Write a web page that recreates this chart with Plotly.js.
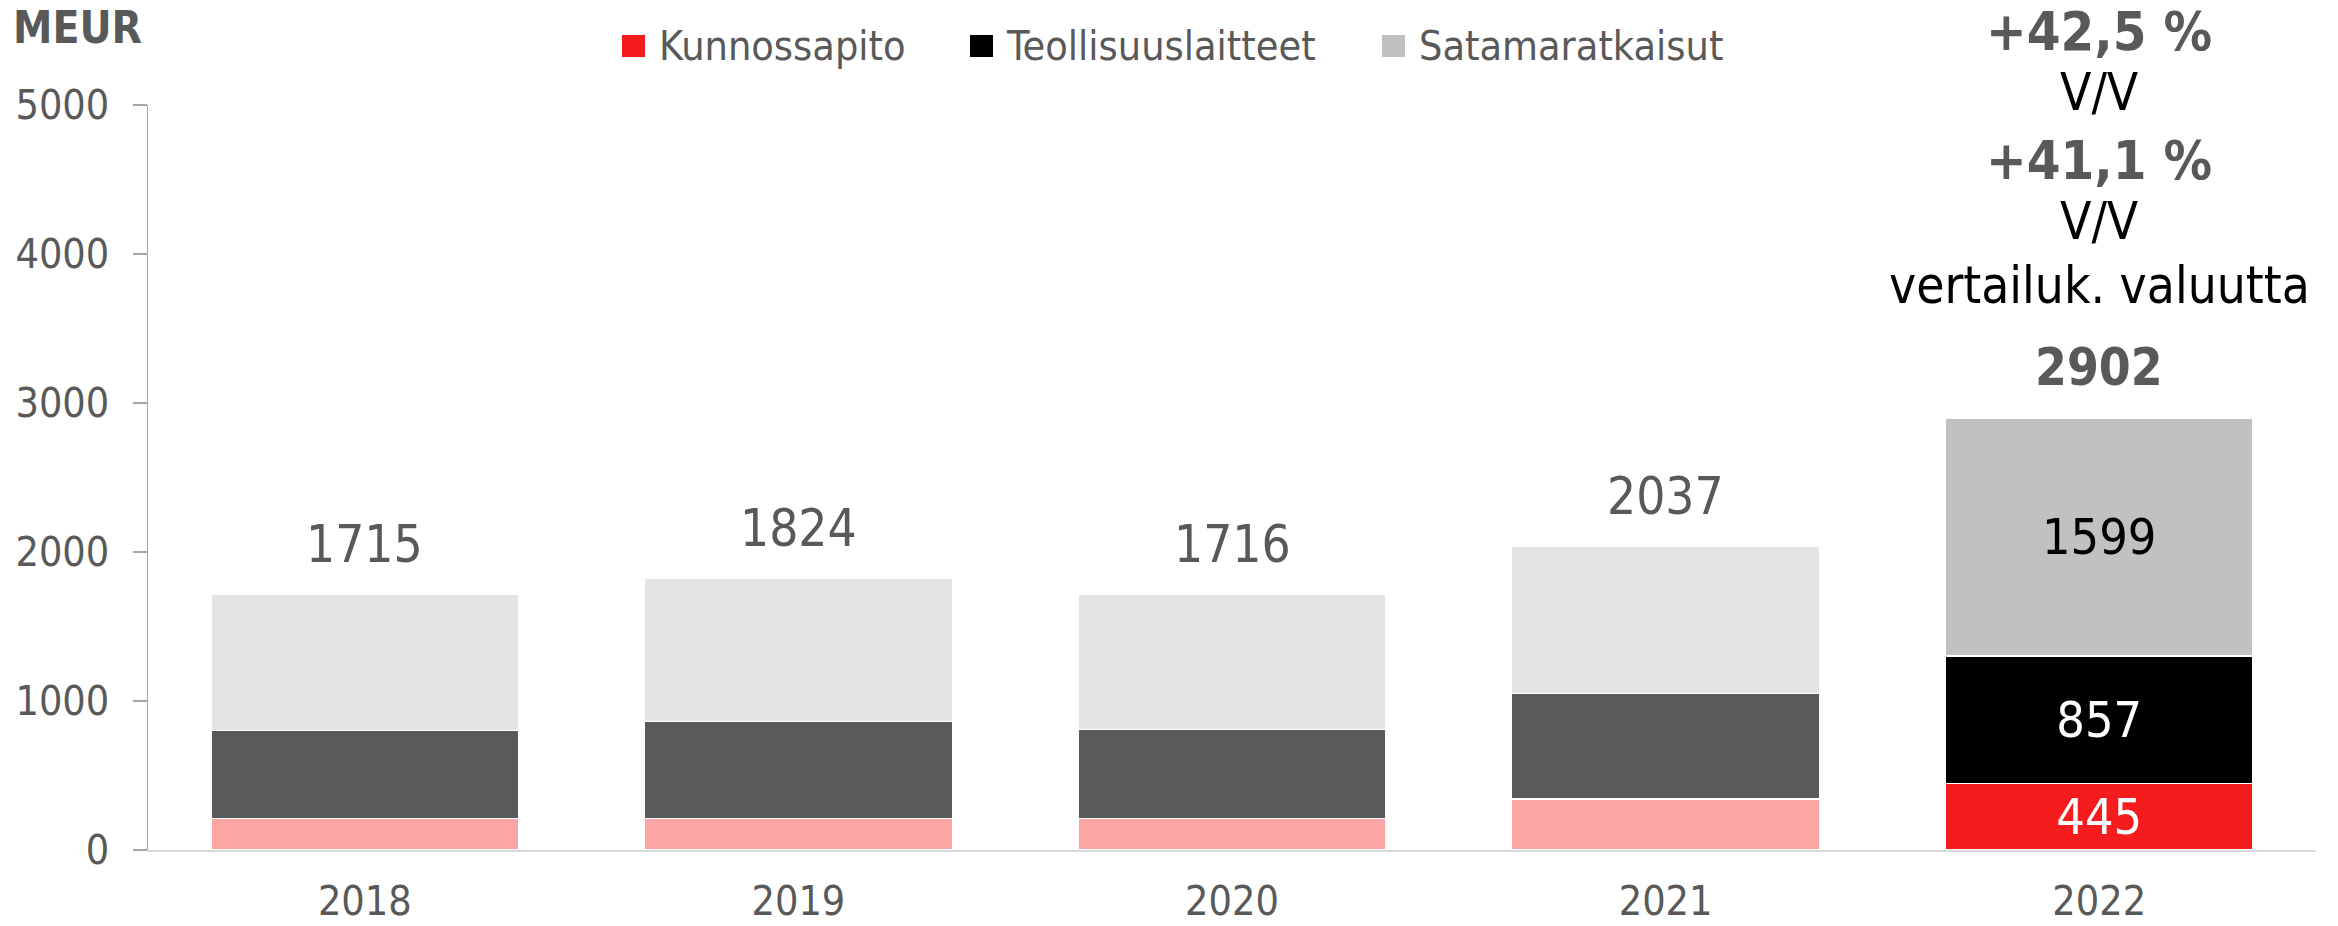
<!DOCTYPE html>
<html><head><meta charset="utf-8">
<script src="https://cdn.plot.ly/plotly-3.0.1.min.js"></script>
<style>html,body{margin:0;padding:0;background:#fff}</style>
</head><body>
<div id="chart" style="width:2338px;height:926px"></div>
<script>
// ---- data ----
const years = ['2018', '2019', '2020', '2021', '2022'];
const kunnossapito = [213, 210, 210, 342, 445];
const teollisuuslaitteet = [590, 651, 600, 710, 857];
const satamaratkaisut = [912, 963, 906, 985, 1599];
const totals = [1715, 1824, 1716, 2037, 2902];
const seriesNames = ['Kunnossapito', 'Teollisuuslaitteet', 'Satamaratkaisut'];
const growthLines = ['+42,5 %', 'V/V', '+41,1 %', 'V/V', 'vertailuk. valuutta'];
const growthBold = [true, false, true, false, false];
const unitLabel = 'MEUR';

// ---- styles ----
const FONT = '"DejaVu Sans Condensed", "DejaVu Sans", sans-serif';
const GRAY = '#595959';
const W = 2338, H = 926;
const ML = 148, MR = 22, MT = 105, MB = 76;
const PW = W - ML - MR, PH = H - MT - MB;
const px2x = p => (p - ML) / PW;
const py2y = p => (H - MB - p) / PH;

const fadedColors = ['#FBA5A5', '#5A5A5A', '#E3E4E3'];
const mainColors = ['#F41C1C', '#000000', '#C1C1C1'];
const legendColors = ['#F41C1C', '#000000', '#C0C0C0'];
const insideTextColors = ['#FFFFFF', '#FFFFFF', '#000000'];
const lastIdx = years.length - 1;

const seriesValues = [kunnossapito, teollisuuslaitteet, satamaratkaisut];
const traces = seriesValues.map((vals, s) => ({
  type: 'bar',
  name: seriesNames[s],
  x: years,
  y: vals,
  marker: {
    color: years.map((_, i) => i === lastIdx ? mainColors[s] : fadedColors[s]),
    line: {color: '#FFFFFF', width: 1.5}
  },
  text: vals.map((v, i) => i === lastIdx ? String(v) : ''),
  textposition: 'inside',
  insidetextanchor: 'middle',
  constraintext: 'none',
  textfont: {family: FONT, size: 50, color: insideTextColors[s]},
  hoverinfo: 'skip',
  showlegend: false
}));

const annotations = [];
// totals above bars (x given as category index)
totals.forEach((t, i) => {
  annotations.push({
    x: i, y: t, xref: 'x', yref: 'y',
    yanchor: 'middle', xanchor: 'center',
    yshift: 50,
    text: i === lastIdx ? '<b>' + t + '</b>' : String(t),
    showarrow: false,
    font: {family: FONT, size: 51, color: GRAY}
  });
});
// growth text block above the last bar
const growthCenters = [31, 92, 160, 221, 285];
growthLines.forEach((line, k) => {
  annotations.push({
    x: lastIdx, xref: 'x', y: py2y(growthCenters[k]), yref: 'paper',
    xanchor: 'center', yanchor: 'middle',
    text: growthBold[k] ? '<b>' + line + '</b>' : line,
    showarrow: false,
    font: {family: FONT, size: growthBold[k] ? 54 : 51, color: growthBold[k] ? GRAY : '#000000'}
  });
});
// unit label
annotations.push({
  x: px2x(11), xref: 'paper', y: py2y(27), yref: 'paper',
  xanchor: 'left', yanchor: 'middle', text: '<b>' + unitLabel + '</b>',
  showarrow: false, font: {family: FONT, size: 44, color: GRAY}
});
// custom legend (large square swatches)
const legSquareX = [622, 970, 1382];
const legTextX = [657, 1004, 1417];
const shapes = [];
seriesNames.forEach((n, s) => {
  shapes.push({
    type: 'rect', xref: 'paper', yref: 'paper',
    x0: px2x(legSquareX[s]), x1: px2x(legSquareX[s] + 23),
    y0: py2y(57), y1: py2y(35),
    fillcolor: legendColors[s], line: {width: 0}
  });
  annotations.push({
    x: px2x(legTextX[s]), xref: 'paper', y: py2y(46), yref: 'paper',
    xanchor: 'left', yanchor: 'middle', text: n, showarrow: false,
    font: {family: FONT, size: 41, color: GRAY}
  });
});

const layout = {
  width: W, height: H,
  margin: {l: ML, r: MR, t: MT, b: MB, pad: 0, autoexpand: false},
  paper_bgcolor: '#FFFFFF', plot_bgcolor: '#FFFFFF',
  font: {family: FONT, color: GRAY, size: 41},
  barmode: 'stack',
  bargap: 0.29,
  showlegend: false,
  xaxis: {
    type: 'category', range: [-0.5, years.length - 0.5], autorange: false,
    showline: true, linecolor: '#D9D9D9', linewidth: 2,
    ticks: '', showgrid: false, zeroline: false,
    tickfont: {family: FONT, size: 41, color: GRAY},
    ticklabelstandoff: 14
  },
  yaxis: {
    range: [0, 5000], autorange: false, tick0: 0, dtick: 1000,
    showline: true, linecolor: '#A6A6A6', linewidth: 1.5,
    ticks: 'outside', ticklen: 14, tickcolor: '#A6A6A6', tickwidth: 1.5,
    showgrid: false, zeroline: false,
    tickfont: {family: FONT, size: 41, color: GRAY},
    ticklabelstandoff: 15
  },
  annotations: annotations,
  shapes: shapes
};

Plotly.newPlot('chart', traces, layout, {displayModeBar: false, staticPlot: true});
</script></body></html>
